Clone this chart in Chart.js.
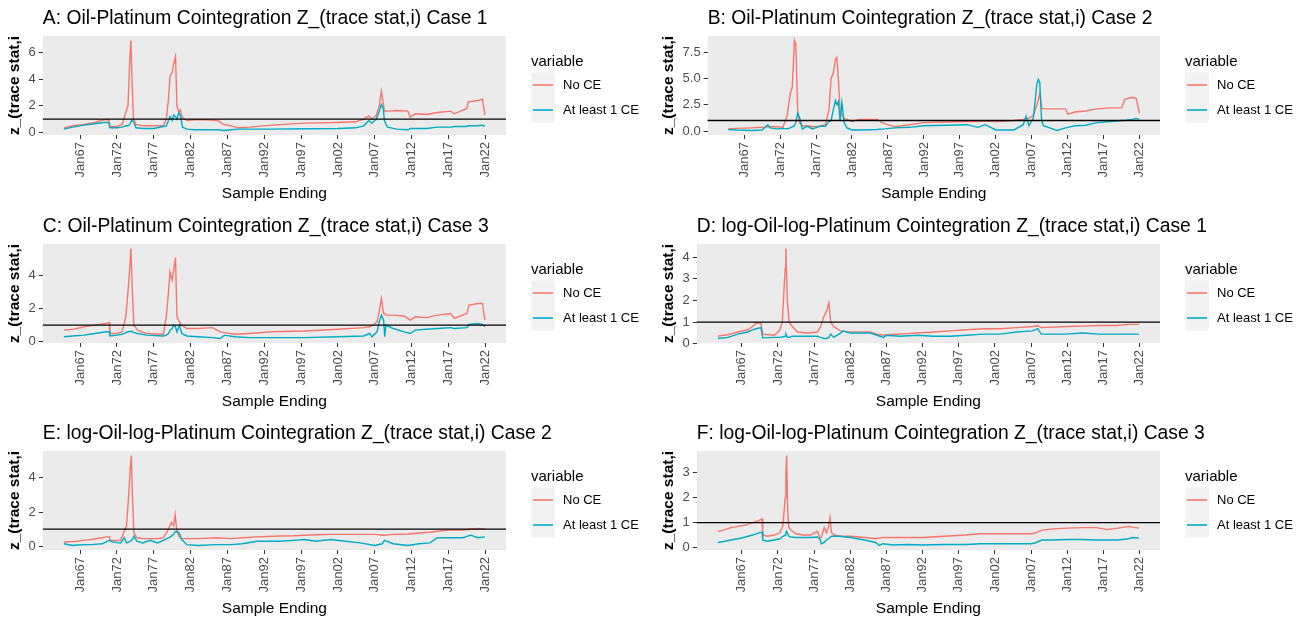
<!DOCTYPE html>
<html>
<head>
<meta charset="utf-8">
<title>Oil-Platinum cointegration Z trace statistics</title>
<script src="https://cdn.jsdelivr.net/npm/chart.js@4.4.1/dist/chart.umd.min.js"></script>
<style>
    body { margin: 0; background: #fff; width: 1306px; height: 619px; position: relative; overflow: hidden; }
    .panel { position: absolute; width: 652px; height: 204px; }
</style>
</head>
<body>
<div class="panel" style="left:0;top:0"><canvas id="chart-a"></canvas></div>
<div class="panel" style="left:654px;top:0"><canvas id="chart-b"></canvas></div>
<div class="panel" style="left:0;top:208px"><canvas id="chart-c"></canvas></div>
<div class="panel" style="left:654px;top:208px"><canvas id="chart-d"></canvas></div>
<div class="panel" style="left:0;top:415px"><canvas id="chart-e"></canvas></div>
<div class="panel" style="left:654px;top:415px"><canvas id="chart-f"></canvas></div>

<script>
// Shared x-axis ticks (sample ending dates, decimal years)
const tickYears = [1967, 1972, 1977, 1982, 1987, 1992, 1997, 2002, 2007, 2012, 2017, 2022];
const tickLabels = ['Jan67', 'Jan72', 'Jan77', 'Jan82', 'Jan87', 'Jan92', 'Jan97', 'Jan02', 'Jan07', 'Jan12', 'Jan17', 'Jan22'];
const seriesNames = ['No CE', 'At least 1 CE'];
const threshold = 1;

// A: Oil-Platinum, case 1
const aDates = [1964.8, 1966.0, 1967.5, 1969.0, 1970.2, 1970.9, 1971.05, 1972.0, 1972.7, 1973.2, 1973.5, 1973.75, 1973.9, 1974.05, 1974.25, 1974.6, 1975.5, 1977.0, 1978.3, 1978.7, 1979.0, 1979.2, 1979.5, 1979.7, 1979.95, 1980.15, 1980.4, 1980.6, 1980.9, 1981.5, 1982.5, 1984.0, 1985.7, 1986.5, 1987.5, 1988.5, 1990.0, 1993.0, 1997.5, 2002.0, 2004.4, 2005.5, 2006.2, 2006.6, 2007.2, 2007.6, 2007.9, 2008.15, 2008.3, 2008.7, 2010.0, 2011.5, 2011.8, 2012.5, 2014.0, 2015.5, 2017.3, 2017.8, 2019.5, 2019.7, 2021.0, 2021.6, 2021.95];
const aNoCE = [0.35, 0.5, 0.6, 0.75, 0.95, 0.95, 0.45, 0.45, 0.6, 1.5, 2.0, 5.5, 6.9, 4.0, 1.0, 0.6, 0.5, 0.5, 0.5, 1.0, 2.5, 4.2, 4.5, 5.2, 5.7, 2.0, 1.5, 1.7, 1.1, 0.9, 0.95, 0.95, 0.9, 0.6, 0.5, 0.35, 0.4, 0.55, 0.7, 0.75, 0.8, 1.0, 1.25, 1.0, 1.3, 2.0, 3.1, 2.2, 1.6, 1.6, 1.65, 1.6, 1.15, 1.4, 1.35, 1.5, 1.6, 1.4, 1.8, 2.3, 2.4, 2.5, 1.3];
const aCE = [0.25, 0.4, 0.55, 0.65, 0.75, 0.75, 0.35, 0.35, 0.4, 0.5, 0.5, 0.6, 0.8, 0.95, 0.8, 0.35, 0.3, 0.3, 0.45, 0.5, 0.9, 1.2, 0.9, 1.3, 1.2, 1.0, 1.5, 1.3, 0.4, 0.25, 0.2, 0.2, 0.2, 0.15, 0.2, 0.25, 0.25, 0.25, 0.28, 0.3, 0.35, 0.5, 0.9, 0.7, 1.0, 1.6, 2.1, 1.8, 0.9, 0.4, 0.25, 0.2, 0.3, 0.3, 0.3, 0.4, 0.4, 0.45, 0.45, 0.5, 0.5, 0.55, 0.45];
const aYTicks = ['0', '2', '4', '6'];

// B: Oil-Platinum, case 2
const bDates = [1964.8, 1966.0, 1968.0, 1969.5, 1970.3, 1970.6, 1971.5, 1972.4, 1973.0, 1973.4, 1973.7, 1974.0, 1974.2, 1974.45, 1974.7, 1975.1, 1975.8, 1976.5, 1977.5, 1978.3, 1978.8, 1979.1, 1979.4, 1979.7, 1979.9, 1980.1, 1980.35, 1980.6, 1980.9, 1981.3, 1982.0, 1983.0, 1985.5, 1986.5, 1988.0, 1990.0, 1992.0, 1995.0, 1998.0, 1999.5, 2000.5, 2002.0, 2004.5, 2005.8, 2006.2, 2006.6, 2007.2, 2007.7, 2007.9, 2008.1, 2008.35, 2008.6, 2009.5, 2010.5, 2011.7, 2012.0, 2013.0, 2014.5, 2016.0, 2018.0, 2019.5, 2019.9, 2021.0, 2021.5, 2021.95];
const bNoCE = [0.2, 0.25, 0.3, 0.35, 0.4, 0.4, 0.4, 0.35, 1.5, 3.5, 4.2, 8.6, 8.2, 2.0, 0.8, 0.5, 0.5, 0.4, 0.45, 0.6, 2.0, 5.0, 5.5, 6.8, 7.0, 5.0, 2.0, 1.5, 1.2, 1.1, 0.9, 1.1, 1.1, 0.7, 0.4, 0.6, 0.8, 0.85, 0.9, 0.9, 0.95, 0.9, 1.0, 1.1, 1.2, 1.2, 1.5, 2.5, 3.0, 3.6, 2.2, 2.1, 2.1, 2.1, 2.1, 1.6, 1.8, 1.9, 2.1, 2.2, 2.2, 3.0, 3.2, 3.1, 1.7];
const bCE = [0.15, 0.1, 0.05, 0.1, 0.6, 0.3, 0.2, 0.25, 0.2, 0.3, 0.4, 0.5, 0.8, 1.7, 1.3, 0.2, 0.45, 0.2, 0.45, 0.45, 0.9, 1.0, 2.0, 2.9, 2.5, 2.8, 1.0, 2.7, 0.8, 0.3, 0.1, 0.1, 0.15, 0.2, 0.3, 0.35, 0.5, 0.55, 0.6, 0.35, 0.6, 0.1, 0.1, 0.6, 1.4, 0.5, 1.2, 4.5, 4.9, 4.6, 1.0, 0.5, 0.3, 0.05, 0.3, 0.35, 0.5, 0.55, 0.8, 0.9, 1.0, 1.0, 1.1, 1.2, 1.1];
const bYTicks = ['0.0', '2.5', '5.0', '7.5'];

// C: Oil-Platinum, case 3
const cDates = [1964.8, 1966.0, 1967.5, 1969.0, 1970.5, 1970.95, 1971.05, 1972.0, 1972.7, 1973.2, 1973.5, 1973.75, 1973.9, 1974.1, 1974.3, 1974.8, 1976.0, 1978.3, 1978.7, 1979.0, 1979.2, 1979.5, 1979.7, 1979.95, 1980.15, 1980.5, 1980.8, 1981.5, 1983.0, 1985.0, 1986.0, 1986.6, 1988.0, 1990.0, 1993.0, 1997.5, 2002.0, 2005.5, 2006.3, 2006.6, 2007.3, 2007.6, 2007.9, 2008.2, 2008.35, 2008.5, 2009.5, 2011.0, 2011.8, 2012.5, 2014.0, 2015.5, 2017.3, 2017.8, 2019.5, 2019.8, 2021.0, 2021.6, 2021.95];
const cNoCE = [0.7, 0.75, 0.9, 1.0, 1.1, 1.15, 0.5, 0.5, 0.6, 1.5, 3.0, 4.5, 5.6, 3.0, 1.0, 0.7, 0.5, 0.45, 1.5, 3.0, 4.2, 3.7, 4.3, 5.05, 1.5, 1.2, 1.0, 0.8, 0.8, 0.85, 0.6, 0.55, 0.45, 0.5, 0.6, 0.65, 0.75, 0.85, 0.9, 0.95, 1.2, 1.8, 2.6, 1.7, 1.7, 1.6, 1.6, 1.55, 1.3, 1.5, 1.45, 1.6, 1.7, 1.4, 1.7, 2.2, 2.3, 2.3, 1.3];
const cCE = [0.3, 0.35, 0.4, 0.5, 0.6, 0.6, 0.35, 0.4, 0.45, 0.55, 0.6, 0.6, 0.65, 0.6, 0.55, 0.5, 0.4, 0.35, 0.4, 0.5, 0.7, 0.8, 1.0, 0.9, 0.6, 1.0, 0.5, 0.35, 0.3, 0.25, 0.2, 0.4, 0.3, 0.25, 0.25, 0.25, 0.3, 0.35, 0.5, 0.3, 0.6, 1.2, 1.6, 1.3, 0.3, 1.0, 0.8, 0.6, 0.5, 0.7, 0.75, 0.8, 0.85, 0.8, 0.85, 1.05, 1.1, 1.05, 0.9];
const cYTicks = ['0', '2', '4'];

// D: log-Oil / log-Platinum, case 1
const dDates = [1963.7, 1965.1, 1966.45, 1967.8, 1968.5, 1969.0, 1969.65, 1969.9, 1971.5, 1972.2, 1972.6, 1973.0, 1973.1, 1973.3, 1973.55, 1974.0, 1974.7, 1976.1, 1977.45, 1977.9, 1978.4, 1978.7, 1979.05, 1979.3, 1979.7, 1980.65, 1981.0, 1982.0, 1984.8, 1985.7, 1986.6, 1987.0, 1988.9, 1991.2, 1993.5, 1995.8, 1998.1, 2000.4, 2002.7, 2005.0, 2007.2, 2007.9, 2008.4, 2011.8, 2014.1, 2016.4, 2018.7, 2020.5, 2021.9];
const dNoCE = [0.36, 0.42, 0.55, 0.65, 0.8, 0.95, 0.95, 0.45, 0.4, 0.6, 1.0, 3.5, 4.4, 2.0, 1.0, 0.8, 0.55, 0.5, 0.55, 0.8, 1.3, 1.5, 1.9, 1.0, 0.8, 0.6, 0.58, 0.55, 0.55, 0.45, 0.4, 0.42, 0.45, 0.5, 0.55, 0.6, 0.65, 0.7, 0.7, 0.75, 0.8, 0.85, 0.75, 0.8, 0.82, 0.85, 0.85, 0.9, 0.9];
const dCE = [0.25, 0.3, 0.45, 0.55, 0.65, 0.7, 0.75, 0.28, 0.3, 0.3, 0.32, 0.35, 0.45, 0.3, 0.3, 0.35, 0.35, 0.35, 0.35, 0.3, 0.25, 0.25, 0.3, 0.45, 0.3, 0.5, 0.6, 0.5, 0.5, 0.4, 0.3, 0.4, 0.35, 0.4, 0.35, 0.35, 0.4, 0.45, 0.45, 0.55, 0.6, 0.7, 0.45, 0.45, 0.5, 0.45, 0.45, 0.45, 0.45];
const dYTicks = ['0', '1', '2', '3', '4'];

// E: log-Oil / log-Platinum, case 2
const eDates = [1964.8, 1966.0, 1966.5, 1968.0, 1968.5, 1970.0, 1970.5, 1970.7, 1971.0, 1971.1, 1971.5, 1972.5, 1973.0, 1973.3, 1973.6, 1973.8, 1973.95, 1974.1, 1974.3, 1974.7, 1975.5, 1976.5, 1977.5, 1978.3, 1979.0, 1979.4, 1979.7, 1979.9, 1980.1, 1980.4, 1980.8, 1981.5, 1983.0, 1985.5, 1987.5, 1989.0, 1991.0, 1994.0, 1996.0, 1997.5, 1999.0, 2001.0, 2003.0, 2005.0, 2007.0, 2008.0, 2008.3, 2009.5, 2011.5, 2013.0, 2014.5, 2015.5, 2017.0, 2019.0, 2020.0, 2021.0, 2021.95];
const eNoCE = [0.25, 0.28, 0.3, 0.38, 0.4, 0.5, 0.55, 0.55, 0.55, 0.35, 0.35, 0.35, 0.9, 1.2, 3.0, 4.5, 5.3, 3.0, 0.8, 0.5, 0.45, 0.45, 0.45, 0.5, 1.0, 1.4, 1.2, 1.85, 1.0, 0.6, 0.45, 0.45, 0.45, 0.5, 0.45, 0.5, 0.55, 0.6, 0.62, 0.65, 0.68, 0.7, 0.7, 0.7, 0.7, 0.65, 0.65, 0.7, 0.72, 0.78, 0.82, 0.88, 0.95, 0.95, 1.0, 1.05, 1.0];
const eCE = [0.15, 0.05, 0.08, 0.1, 0.1, 0.15, 0.25, 0.3, 0.35, 0.3, 0.25, 0.2, 0.5, 0.2, 0.25, 0.3, 0.35, 0.4, 0.6, 0.3, 0.2, 0.35, 0.2, 0.35, 0.5, 0.6, 0.7, 0.85, 0.85, 0.8, 0.4, 0.1, 0.05, 0.1, 0.1, 0.15, 0.3, 0.3, 0.35, 0.4, 0.3, 0.4, 0.3, 0.2, 0.05, 0.15, 0.35, 0.15, 0.05, 0.15, 0.2, 0.5, 0.5, 0.5, 0.65, 0.5, 0.55];
const eYTicks = ['0', '2', '4'];

// F: log-Oil / log-Platinum, case 3
const fDates = [1963.7, 1964.5, 1965.5, 1966.5, 1967.5, 1968.5, 1969.5, 1969.8, 1969.9, 1970.5, 1971.5, 1972.3, 1972.7, 1973.0, 1973.1, 1973.2, 1973.35, 1973.5, 1973.8, 1974.5, 1975.5, 1976.5, 1977.45, 1977.8, 1978.0, 1978.4, 1978.7, 1979.0, 1979.2, 1979.4, 1979.8, 1980.5, 1982.0, 1984.0, 1985.5, 1986.0, 1986.5, 1988.0, 1990.0, 1992.0, 1995.0, 1998.0, 2000.0, 2003.0, 2007.0, 2007.5, 2008.5, 2010.0, 2012.0, 2014.0, 2016.0, 2017.0, 2017.5, 2019.0, 2020.5, 2021.0, 2021.9];
const fNoCE = [0.65, 0.7, 0.8, 0.85, 0.9, 1.0, 1.1, 1.15, 0.5, 0.45, 0.5, 0.6, 0.9, 2.0, 3.0, 3.7, 1.5, 0.8, 0.7, 0.55, 0.5, 0.5, 0.65, 0.4, 0.4, 0.8, 0.6, 0.85, 1.2, 0.6, 0.5, 0.45, 0.45, 0.4, 0.35, 0.38, 0.4, 0.4, 0.4, 0.4, 0.45, 0.5, 0.55, 0.55, 0.55, 0.58, 0.7, 0.75, 0.78, 0.8, 0.8, 0.75, 0.72, 0.78, 0.85, 0.82, 0.78];
const fCE = [0.2, 0.24, 0.3, 0.35, 0.42, 0.5, 0.6, 0.62, 0.3, 0.25, 0.3, 0.35, 0.45, 0.5, 0.6, 0.65, 0.55, 0.45, 0.42, 0.4, 0.4, 0.4, 0.42, 0.35, 0.15, 0.2, 0.3, 0.35, 0.4, 0.45, 0.45, 0.45, 0.4, 0.3, 0.2, 0.08, 0.15, 0.1, 0.12, 0.1, 0.12, 0.12, 0.15, 0.15, 0.15, 0.18, 0.3, 0.3, 0.32, 0.32, 0.3, 0.3, 0.3, 0.3, 0.35, 0.4, 0.38];
const fYTicks = ['0', '1', '2', '3'];

const panels = [
    { id: 'chart-a', title: 'A: Oil-Platinum Cointegration Z_(trace stat,i) Case 1', dates: aDates, noCE: aNoCE, ce: aCE, yTicks: aYTicks },
    { id: 'chart-b', title: 'B: Oil-Platinum Cointegration Z_(trace stat,i) Case 2', dates: bDates, noCE: bNoCE, ce: bCE, yTicks: bYTicks },
    { id: 'chart-c', title: 'C: Oil-Platinum Cointegration Z_(trace stat,i) Case 3', dates: cDates, noCE: cNoCE, ce: cCE, yTicks: cYTicks },
    { id: 'chart-d', title: 'D: log-Oil-log-Platinum Cointegration Z_(trace stat,i) Case 1', dates: dDates, noCE: dNoCE, ce: dCE, yTicks: dYTicks },
    { id: 'chart-e', title: 'E: log-Oil-log-Platinum Cointegration Z_(trace stat,i) Case 2', dates: eDates, noCE: eNoCE, ce: eCE, yTicks: eYTicks },
    { id: 'chart-f', title: 'F: log-Oil-log-Platinum Cointegration Z_(trace stat,i) Case 3', dates: fDates, noCE: fNoCE, ce: fCE, yTicks: fYTicks }
];

const NO_CE_COLOR = '#F8766D';
const CE_COLOR = '#00ACC4';
const FONT = '"Liberation Sans", Arial, sans-serif';

Chart.defaults.font.family = FONT;

// ggplot-style range: data extent widened by 5% on each side
function paddedRange(values) {
    const lo = Math.min(...values);
    const hi = Math.max(...values);
    const pad = (hi - lo) * 0.05;
    return [lo - pad, hi + pad];
}

// Grey panel behind the lines
const panelBackground = {
    id: 'panelBackground',
    beforeDraw(chart) {
        const { ctx, chartArea: a } = chart;
        ctx.save();
        ctx.fillStyle = '#EBEBEB';
        ctx.fillRect(a.left, a.top, a.width, a.height);
        ctx.restore();
    }
};

// Horizontal reference line at the critical value
const thresholdLine = {
    id: 'thresholdLine',
    afterDatasetsDraw(chart) {
        const { ctx, chartArea: a, scales: { y } } = chart;
        const py = y.getPixelForValue(threshold);
        ctx.save();
        ctx.strokeStyle = '#000';
        ctx.lineWidth = 1.3;
        ctx.beginPath();
        ctx.moveTo(a.left, py);
        ctx.lineTo(a.right, py);
        ctx.stroke();
        ctx.restore();
    }
};

// Left-aligned panel title; allowed to run past the plot area
const panelTitle = {
    id: 'panelTitle',
    afterDraw(chart, args, opts) {
        const { ctx, chartArea: a } = chart;
        ctx.save();
        ctx.fillStyle = '#000';
        ctx.font = '19.3px ' + FONT;
        ctx.textAlign = 'left';
        ctx.textBaseline = 'middle';
        ctx.fillText(opts.text, a.left, 19);
        ctx.restore();
    }
};

// Legend box to the right of the panel
const sideLegend = {
    id: 'sideLegend',
    afterDraw(chart) {
        const { ctx, chartArea: a } = chart;
        const x = a.right + 25;
        const mid = (a.top + a.bottom) / 2;
        const keyTop = mid - 13;
        ctx.save();
        ctx.fillStyle = '#000';
        ctx.textBaseline = 'middle';
        ctx.textAlign = 'left';
        ctx.font = '15px ' + FONT;
        ctx.fillText('variable', x, mid - 24);
        ctx.fillStyle = '#F2F2F2';
        ctx.fillRect(x, keyTop, 24, 50);
        ctx.font = '13px ' + FONT;
        chart.data.datasets.forEach((ds, i) => {
            const cy = keyTop + 12.5 + i * 25;
            ctx.strokeStyle = ds.borderColor;
            ctx.lineWidth = 1.6;
            ctx.beginPath();
            ctx.moveTo(x + 2, cy);
            ctx.lineTo(x + 22, cy);
            ctx.stroke();
            ctx.fillStyle = '#000';
            ctx.fillText(ds.label, x + 32, cy);
        });
        ctx.restore();
    }
};

function axisTicks() {
    return {
        drawOnChartArea: false,
        drawTicks: true,
        tickLength: 4,
        tickColor: '#333333',
        tickWidth: 1
    };
}

function buildPanel(p) {
    const [xMin, xMax] = paddedRange(p.dates);
    const [yMin, yMax] = paddedRange(p.noCE.concat(p.ce, [threshold]));
    const toPoints = vals => p.dates.map((d, i) => ({ x: d, y: vals[i] }));

    new Chart(document.getElementById(p.id), {
        type: 'line',
        data: {
            datasets: [
                { label: seriesNames[0], data: toPoints(p.noCE), borderColor: NO_CE_COLOR, order: 1 },
                { label: seriesNames[1], data: toPoints(p.ce), borderColor: CE_COLOR, order: 0 }
            ]
        },
        options: {
            responsive: true,
            maintainAspectRatio: false,
            animation: false,
            events: [],
            layout: { padding: { left: 0, top: 36, right: 146, bottom: 0 } },
            elements: {
                line: { borderWidth: 1.4, tension: 0, fill: false },
                point: { radius: 0 }
            },
            plugins: {
                legend: { display: false },
                tooltip: { enabled: false },
                panelTitle: { text: p.title }
            },
            scales: {
                x: {
                    type: 'linear',
                    min: xMin,
                    max: xMax,
                    afterBuildTicks: s => { s.ticks = tickYears.map(v => ({ value: v })); },
                    ticks: {
                        autoSkip: false,
                        minRotation: 90,
                        maxRotation: 90,
                        color: '#4D4D4D',
                        font: { size: 13 },
                        padding: 3,
                        callback: (v, i) => tickLabels[i]
                    },
                    grid: axisTicks(),
                    border: { display: false },
                    title: {
                        display: true,
                        text: 'Sample Ending',
                        color: '#000',
                        font: { size: 15.5 },
                        padding: { top: 4, bottom: 1 }
                    }
                },
                y: {
                    type: 'linear',
                    min: yMin,
                    max: yMax,
                    afterBuildTicks: s => { s.ticks = p.yTicks.map(t => ({ value: parseFloat(t) })); },
                    ticks: {
                        color: '#4D4D4D',
                        font: { size: 13 },
                        padding: 3,
                        callback: (v, i) => p.yTicks[i]
                    },
                    grid: axisTicks(),
                    border: { display: false },
                    title: {
                        display: true,
                        text: 'z_(trace stat,i',
                        color: '#000',
                        font: { size: 15.5, weight: 'bold' },
                        padding: { top: 5, bottom: 2 }
                    }
                }
            }
        },
        plugins: [panelBackground, thresholdLine, panelTitle, sideLegend]
    });
}

panels.forEach(buildPanel);
</script>
</body>
</html>
